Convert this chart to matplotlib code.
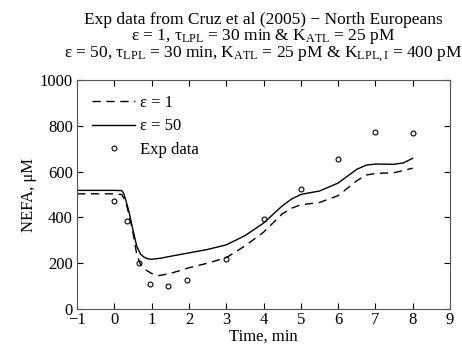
import matplotlib
matplotlib.use("Agg")
import matplotlib.pyplot as plt

plt.rcParams['font.family'] = ['Liberation Serif', 'DejaVu Serif']
plt.rcParams['mathtext.fontset'] = 'custom'
plt.rcParams['mathtext.rm'] = 'Liberation Serif'
plt.rcParams['mathtext.it'] = 'Liberation Serif:italic'

# model curve, epsilon = 50 (solid)
t_e50 = [-1, 0, 0.2, 0.25, 0.3, 0.4, 0.5, 0.6, 0.7, 0.8, 0.9, 1.0, 1.25, 1.5, 2, 2.5, 3,
         3.5, 4, 4.5, 4.75, 5, 5.25, 5.5, 6, 6.5, 6.75, 7, 7.5, 7.75, 8]
nefa_e50 = [518, 518, 517, 505, 480, 420, 345, 275, 240, 226, 219, 217, 222, 230, 245, 260, 280,
            320, 375, 450, 480, 500, 508, 515, 550, 610, 628, 633, 632, 638, 658]

# model curve, epsilon = 1 (dashed)
t_e1 = [-1, 0, 0.2, 0.3, 0.4, 0.5, 0.6, 0.7, 0.85, 1.0, 1.2, 1.5, 2, 2.5, 3,
        3.5, 4, 4.5, 4.75, 5, 5.5, 6, 6.5, 6.75, 7, 7.5, 8]
nefa_e1 = [503, 503, 500, 470, 410, 335, 240, 195, 170, 155, 146, 155, 180, 200, 224,
           275, 335, 415, 440, 455, 465, 495, 560, 585, 592, 595, 615]

# experimental points
t_exp = [0, 0.33, 0.65, 0.97, 1.45, 1.96, 3, 4, 5, 6, 7, 8]
nefa_exp = [470, 383, 200, 108, 100, 125, 220, 395, 522, 655, 775, 770]

fig = plt.figure(figsize=(4.62, 3.54), dpi=100)
ax = fig.add_axes([77/462, 1 - 309/354, (450-77)/462, (309-80)/354])

ax.plot(t_e1, nefa_e1, color='black', linestyle=(0, (6, 4)), linewidth=1.0, label='ε = 1')
ax.plot(t_e50, nefa_e50, color='black', linestyle='-', linewidth=1.0, label='ε = 50')
ax.plot(t_exp, nefa_exp, linestyle='none', marker='o', markersize=3.5, markerfacecolor='none',
        markeredgecolor='black', markeredgewidth=0.8, label='Exp data')

ax.set_xlim(-1, 9)
ax.set_ylim(0, 1000)
ax.set_xticks(range(-1, 10))
ax.set_yticks(range(0, 1001, 200))
ax.tick_params(direction='in', top=True, right=True, labelsize=12, length=4)
ax.tick_params(axis='x', pad=2.5)
ax.tick_params(axis='y', pad=3)
for s in ax.spines.values():
    s.set_color('#555555')
ax.set_xlabel('Time, min', fontsize=12, labelpad=0)
ax.set_ylabel('NEFA, μM', fontsize=12, labelpad=2)

title = ('Exp data from Cruz et al (2005) − North Europeans\n'
         'ε = 1, τ$_{\\mathrm{LPL}}$ = 30 min & K$_{\\mathrm{ATL}}$ = 25 pM\n'
         'ε = 50, τ$_{\\mathrm{LPL}}$ = 30 min, K$_{\\mathrm{ATL}}$ = 25 pM & '
         'K$_{\\mathrm{LPL,I}}$ = 400 pM')
ax.set_title(title, fontsize=12.5, linespacing=0.92, pad=16)

ax.legend(loc='upper left', frameon=False, fontsize=12, handlelength=2.6,
          handletextpad=0.3, labelspacing=0.45, borderaxespad=0.5)

fig.savefig('out.png', dpi=100)
